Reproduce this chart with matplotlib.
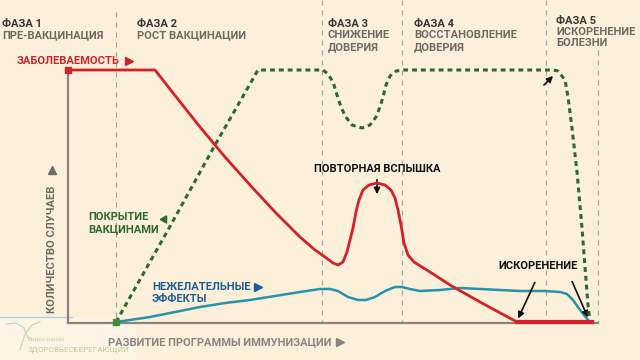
import matplotlib.pyplot as plt

# chart coordinates (x to the right, y downward, 640x360 frame)
phase_x = [116, 322, 402, 546, 598]
phase_top = [12, 0, 0, 0, 50]
phase_titles = ["ФАЗА 1", "ФАЗА 2", "ФАЗА 3", "ФАЗА 4", "ФАЗА 5"]
phase_names = [["ПРЕ-ВАКЦИНАЦИЯ"], ["РОСТ ВАКЦИНАЦИИ"], ["СНИЖЕНИЕ", "ДОВЕРИЯ"],
               ["ВОССТАНОВЛЕНИЕ", "ДОВЕРИЯ"], ["ИСКОРЕНЕНИЕ", "БОЛЕЗНИ"]]
phase_label_x = [2, 137, 328, 414, 556]
phase_label_y = [24, 24, 24, 24, 20.5]

incidence_x = [68, 155, 177, 200, 225, 250, 275, 300, 315, 325, 333, 338, 343, 347, 350,
               353, 356, 359, 363, 369, 377, 385, 391, 395, 398, 401, 404, 408, 414, 430,
               450, 480, 517, 592]
incidence_y = [70, 70, 98, 127, 157, 185, 212, 237, 250, 257, 263, 265, 262, 252, 240,
               228, 212, 200, 190, 185, 183, 185, 190, 198, 210, 225, 243, 255, 262, 272,
               285, 302, 322, 322]

coverage_x = [116, 168, 215, 258, 323, 328, 333, 337, 340, 345, 352, 362, 370, 376, 380,
              383, 386, 390, 396, 404, 553, 558, 565, 568, 572, 577, 582, 586, 588, 590]
coverage_y = [322, 230, 145, 70, 70, 74, 82, 95, 104, 116, 125, 128, 125, 117, 107,
              97, 85, 76, 71, 70, 70, 71, 80, 97, 128, 172, 228, 280, 305, 322]

effects_x = [116, 130, 150, 175, 200, 225, 250, 275, 300, 320, 330, 338, 348, 358, 366,
             375, 385, 395, 402, 410, 420, 440, 460, 480, 500, 520, 545, 560, 567, 573,
             580, 588, 590]
effects_y = [322, 320, 317, 312, 307, 303, 300, 296, 292, 289, 289, 291, 297, 300, 300,
             297, 291, 287, 287, 289, 291, 290, 288, 289, 290, 291, 291, 292, 294, 300,
             310, 320, 322]

bg = "#fcf0da"
red = "#d42129"
green = "#2e6a2f"
teal = "#2593aa"
blue_txt = "#1d5d98"
grey_axis = "#8c837a"
grey_txt = "#6e6a66"
dark_txt = "#3a3633"

plt.rcParams['font.family'] = ['Roboto', 'DejaVu Sans']

fig = plt.figure(figsize=(6.4, 3.6), dpi=100, facecolor=bg)
ax = fig.add_axes([0, 0, 1, 1])
ax.set_facecolor(bg)
ax.set_xlim(0, 640)
ax.set_ylim(360, 0)
ax.axis('off')

# watermark
ax.fill_between([0, 135], 317, 360, color="#fdf4e6", zorder=0)
ax.plot([0, 72], [317, 317], color="#a7d6e0", lw=1, zorder=1)
ax.text(28, 339, "Видео-канал", fontsize=4.5, color="#c8d4b0", va='center')
ax.text(28, 350, "ЗДОРОВЬЕСБЕРЕГАЮЩИЙ", fontsize=5.8, color="#bccf94", va='center')
ax.plot([6, 16, 24, 28], [324, 323, 328, 338], color="#b6dbe2", lw=0.9)
ax.plot([20, 25, 32, 40], [350, 334, 325, 322], color="#cfd9a8", lw=0.9)

# phase dividers
for x, top in zip(phase_x, phase_top):
    ax.plot([x, x], [top, 322], color="#aaa39b", lw=0.9, ls=(0, (4, 4)), zorder=1)

# axes
ax.plot([68, 68], [70, 323], color=grey_axis, lw=1.6, zorder=2)
ax.plot([68, 598], [323, 323], color=grey_axis, lw=1.6, zorder=2)

# phase titles
for x, y, t, names in zip(phase_label_x, phase_label_y, phase_titles, phase_names):
    ax.text(x, y, t, fontsize=8, fontweight='bold', color=dark_txt, va='center')
    for i, n in enumerate(names):
        ax.text(x, y + 11.5 * (i + 1), n, fontsize=8, fontweight='bold', color=grey_txt, va='center')

# series
ax.plot(effects_x, effects_y, color=teal, lw=1.8, zorder=3)
ax.plot(coverage_x, coverage_y, color=green, lw=2.2, ls=(0, (1.6, 1.3)), zorder=4)
ax.plot(incidence_x, incidence_y, color=red, lw=2.0, zorder=5)
ax.plot(incidence_x[-2:], incidence_y[-2:], color=red, lw=3.0, zorder=5)
ax.plot(incidence_x[0], incidence_y[0], marker='s', ms=4, color=red, zorder=6)
ax.plot(coverage_x[0], coverage_y[0], marker='s', ms=4, color="#3f8a3f", zorder=6)

# series labels
ax.text(17, 61, "ЗАБОЛЕВАЕМОСТЬ", fontsize=8, fontweight='bold', color=red, va='center')
ax.plot(129, 61, marker='>', ms=6, color=red)
ax.text(88, 217, "ПОКРЫТИЕ", fontsize=8, fontweight='bold', color=green, va='center')
ax.text(88, 229.5, "ВАКЦИНАМИ", fontsize=8, fontweight='bold', color=green, va='center')
ax.plot(164, 219, marker=(3, 0, -30), ms=6, color=green)
ax.text(152, 287, "НЕЖЕЛАТЕЛЬНЫЕ", fontsize=8, fontweight='bold', color=blue_txt, va='center')
ax.text(152, 298.5, "ЭФФЕКТЫ", fontsize=8, fontweight='bold', color=blue_txt, va='center')
ax.plot(258, 287, marker='>', ms=6, color=blue_txt)

# annotations
ax.text(377, 168.5, "ПОВТОРНАЯ ВСПЫШКА", fontsize=8, fontweight='bold', color="#111111",
        va='center', ha='center')
ax.annotate("", xy=(377, 197), xytext=(377, 177),
            arrowprops=dict(arrowstyle='-|>', color="#111111", lw=1.2, mutation_scale=9))
ax.text(538, 266, "ИСКОРЕНЕНИЕ", fontsize=8, fontweight='bold', color="#111111",
        va='center', ha='center')
ax.annotate("", xy=(517, 321), xytext=(536, 280),
            arrowprops=dict(arrowstyle='-|>', color="#111111", lw=1.2, mutation_scale=9))
ax.annotate("", xy=(589, 320), xytext=(571, 279),
            arrowprops=dict(arrowstyle='-|>', color="#111111", lw=1.2, mutation_scale=9))
ax.annotate("", xy=(555, 74), xytext=(542, 87),
            arrowprops=dict(arrowstyle='-|>', color="#111111", lw=1.2, mutation_scale=9))

# axis titles
ax.text(52, 249, "КОЛИЧЕСТВО СЛУЧАЕВ", fontsize=8, fontweight='bold', color=grey_txt,
        rotation=90, va='center', ha='center')
ax.plot(52, 170, marker='^', ms=6, color=grey_txt)
ax.text(108, 342, "РАЗВИТИЕ ПРОГРАММЫ ИММУНИЗАЦИИ", fontsize=8, fontweight='bold',
        color="#8a8580", va='center')
ax.plot(340, 342, marker='>', ms=6, color="#8a8580")

fig.savefig("out.png", dpi=100, facecolor=bg)
